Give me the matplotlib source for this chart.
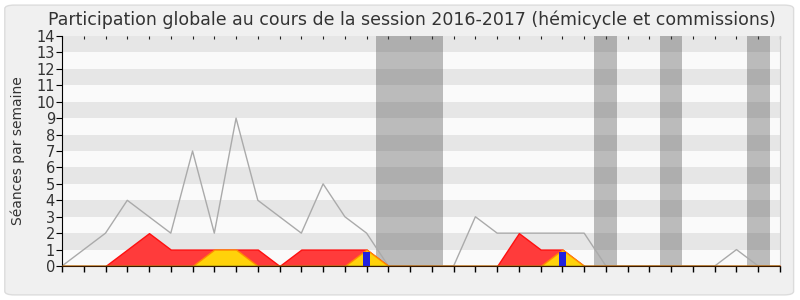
import matplotlib
matplotlib.use("Agg")
import matplotlib.pyplot as plt
import numpy as np
from matplotlib.patches import FancyBboxPatch

# Semaines de la session (0 = début septembre)
semaines = np.arange(34)

# Séances par semaine
total = [0, 1, 2, 4, 3, 2, 7, 2, 9, 4, 3, 2, 5, 3, 2, 0, 0, 0,
         0, 3, 2, 2, 2, 2, 2, 0, 0, 0, 0, 0, 0, 1, 0, 0]
commission = [0, 0, 0, 1, 2, 1, 1, 1, 1, 1, 0, 1, 1, 1, 1, 0, 0, 0,
              0, 0, 0, 2, 1, 1, 0, 0, 0, 0, 0, 0, 0, 0, 0, 0]
hemicycle = [0, 0, 0, 0, 0, 0, 0, 1, 1, 0, 0, 0, 0, 0, 1, 0, 0, 0,
             0, 0, 0, 0, 0, 1, 0, 0, 0, 0, 0, 0, 0, 0, 0, 0]
questions_sem = [14, 23]
questions_val = [0.88, 0.88]

# Vacances parlementaires (en semaines)
vacances = [(14.45, 17.5), (24.45, 25.5), (27.5, 28.5), (31.5, 32.55)]

mois_pos = [0, 4, 9, 14, 18, 21, 25, 30]
mois_lab = ['Sept', 'Oct', 'Nov', 'Déc', 'Jan 17', 'Fév', 'Mar', 'Avr']

fig = plt.figure(figsize=(8, 3), dpi=100, facecolor='white')
fig.patches.append(FancyBboxPatch((0.006, 0.017), 0.986, 0.966,
                                  boxstyle="round,pad=0,rounding_size=0.012",
                                  transform=fig.transFigure, facecolor='#f0f0f0',
                                  edgecolor='#dcdcdc', linewidth=1, zorder=-1))
ax = fig.add_axes([0.0775, 0.1133, 0.8975, 0.7667])
ax.set_facecolor('#fafafa')

# bandes horizontales
for y in range(1, 14, 2):
    ax.axhspan(y, y + 1, color='#e6e6e6', lw=0, zorder=0)

for a, b in vacances:
    ax.axvspan(a, b, color=(70/255, 70/255, 70/255), alpha=0.35, lw=0, zorder=1)

ax.plot(semaines, total, color='#aaaaaa', lw=1, zorder=2)
ax.fill_between(semaines, commission, color='#ff3b3b', edgecolor='#ff1010', lw=1, zorder=3)
ax.fill_between(semaines, hemicycle, color='#ffd20a', edgecolor='#ff8c00', lw=1, zorder=4)
ax.plot(semaines, np.zeros(len(semaines)), color='#1a9a1a', lw=1, zorder=5)
ax.bar(questions_sem, questions_val, width=0.3, color='#2222dd', zorder=6)

ax.set_xlim(0, 33)
ax.set_ylim(0, 14)
ax.set_yticks(range(15))
ax.set_xticks(semaines)
ax.set_xticklabels([''] * len(semaines))
ax.set_xticks(mois_pos, minor=True)
ax.set_xticklabels(mois_lab, minor=True)
ax.tick_params(axis='x', which='major', direction='out', length=4, width=1, color='black')
ax.tick_params(axis='x', which='minor', length=0, labelsize=10.5, pad=3, colors='#333333')
ax.tick_params(axis='y', direction='out', length=4, labelsize=10.5, pad=1, colors='#333333')
ax.tick_params(axis='y', color='black')

# petits repères en haut
top = ax.secondary_xaxis('top')
top.set_xticks(semaines)
top.set_xticklabels([])
top.tick_params(direction='in', length=2, width=0.8, color='#222222')
top.spines['top'].set_visible(False)

ax.spines['top'].set_visible(False)
ax.spines['right'].set_color('#cccccc')
ax.spines['left'].set_color('black')
ax.spines['bottom'].set_color('#3a1a00')
ax.spines['bottom'].set_zorder(7)

ax.set_ylabel('Séances par semaine', fontsize=10, color='#333333', labelpad=8)
fig.suptitle('Participation globale au cours de la session 2016-2017 (hémicycle et commissions)',
             fontsize=12.5, color='#333333', x=0.515, y=0.965)

fig.savefig('out.png', dpi=100, facecolor=fig.get_facecolor())
